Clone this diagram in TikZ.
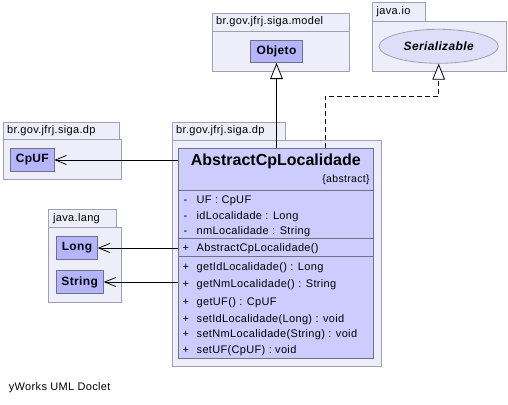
\documentclass[tikz,border=0pt]{standalone}
\usepackage{fontspec}
\setmainfont{Liberation Sans}
\newfontfamily\umlfont[LetterSpace=3]{Liberation Sans}
\usetikzlibrary{arrows.meta,shapes.geometric}
\definecolor{pkgfill}{RGB}{238,238,251}
\definecolor{pkgline}{RGB}{160,160,176}
\definecolor{clsfill}{RGB}{204,204,255}
\definecolor{boxfill}{RGB}{180,180,255}
\definecolor{ifacefill}{RGB}{222,222,248}
\definecolor{clsline}{RGB}{112,112,136}

\begin{document}
\begin{tikzpicture}[x=1pt,y=-1pt]


\tikzset{pkg/.style={draw=pkgline,fill=pkgfill,line width=0.8pt,inner sep=0pt,anchor=north west},}
\tikzset{pkgname/.style={anchor=west,inner sep=0pt,font=\umlfont\fontsize{11}{13}\selectfont},}
\tikzset{box/.style={draw=clsline,fill=boxfill,line width=0.8pt,inner sep=0pt,minimum height=22.6pt,font=\umlfont\bfseries\fontsize{12}{14}\selectfont},}
\tikzset{member/.style={anchor=base west,inner sep=0pt,font=\umlfont\fontsize{11}{13}\selectfont},}

\tikzset{inherit/.style={-{Triangle[open,fill=white,length=16pt,width=12.7pt]}, line width=0.8pt}}
\tikzset{depend/.style={-{Straight Barb[length=11pt,width=9pt]}, line width=0.8pt}}

	\useasboundingbox (0,0) rectangle (508,404);

	\draw
		(211.7,12.7) node[pkg,minimum width=137.6pt,minimum height=18pt] (modeltab) {}
		(211.7,30.7) node[pkg,minimum width=137.6pt,minimum height=40.3pt] (model) {}
		(371.7,2.3) node[pkg,minimum width=53.3pt,minimum height=18.4pt] (iotab) {}
		(371.7,20.7) node[pkg,minimum width=134pt,minimum height=50.3pt] (io) {}
		(2.7,121.7) node[pkg,minimum width=116.3pt,minimum height=17.6pt] (uftab) {}
		(2.7,139.3) node[pkg,minimum width=118pt,minimum height=40pt] (uf) {}
		(48.3,209.3) node[pkg,minimum width=67.7pt,minimum height=18pt] (langtab) {}
		(48.3,227.3) node[pkg,minimum width=72.4pt,minimum height=74.4pt] (lang) {}
		(171.7,121.7) node[pkg,minimum width=113.3pt,minimum height=18.3pt] (dptab) {}
		(171.7,140) node[pkg,minimum width=209.3pt,minimum height=226pt] (dp) {};

	\draw
		(216,21.7) node[pkgname] (modelname) {br.gov.jfrj.siga.model}
		(376.5,11.5) node[pkgname] (ioname) {java.io}
		(7,130.5) node[pkgname] (ufname) {br.gov.jfrj.siga.dp}
		(53,218.3) node[pkgname] (langname) {java.lang}
		(176,130.8) node[pkgname] (dpname) {br.gov.jfrj.siga.dp};

	\draw
		(276.5,51.3) node[box,minimum width=51.6pt] (objeto) {Objeto}
		(32.3,160) node[box,minimum width=43.3pt] (cpuf) {CpUF}
		(77,248) node[box,minimum width=40.6pt] (long) {Long}
		(79.7,282) node[box,minimum width=47.3pt] (string) {String}
		(438.7,46.3) node[ellipse,draw=pkgline,fill=ifacefill,line width=0.8pt,minimum width=119.3pt,minimum height=34pt,font=\umlfont\bfseries\itshape\fontsize{12}{14}\selectfont] (serial) {Serializable};

	% the class
	\node[draw=clsline,fill=clsfill,line width=0.8pt,anchor=north west,minimum width=195pt,minimum height=210.3pt,inner sep=0pt] (cls) at (178.3,148) {};
	\node[font=\bfseries\fontsize{16}{19}\selectfont,inner sep=0pt] (title) at (275.8,161.7) {AbstractCpLocalidade};
	\node[anchor=east,inner sep=0pt,font=\umlfont\fontsize{10.5}{12}\selectfont] (abstr) at (369.8,180) {\{abstract\}};
	\draw[clsline,line width=0.8pt] (cls.west |- 0,190) -- (cls.east |- 0,190);
	\draw[clsline,line width=0.8pt] (cls.west |- 0,238.7) -- (cls.east |- 0,238.7);
	\draw[clsline,line width=0.8pt] (cls.west |- 0,256.7) -- (cls.east |- 0,256.7);

	\draw
		(183.5,203.1) node[member] (v1) {-}  (196.5,203.1) node[member] (m1) {UF : CpUF}
		(183.5,219.1) node[member] (v2) {-}  (196.5,219.1) node[member] (m2) {idLocalidade : Long}
		(183.5,234.5) node[member] (v3) {-}  (196.5,234.5) node[member] (m3) {nmLocalidade : String}
		(182.5,251.1) node[member] (v4) {+}  (196.5,251.1) node[member] (m4) {AbstractCpLocalidade()}
		(182.5,270.5) node[member] (v5) {+}  (196.5,270.5) node[member] (m5) {getIdLocalidade() : Long}
		(182.5,287.1) node[member] (v6) {+}  (196.5,287.1) node[member] (m6) {getNmLocalidade() : String}
		(182.5,305.5) node[member] (v7) {+}  (196.5,305.5) node[member] (m7) {getUF() : CpUF}
		(182.5,322.1) node[member] (v8) {+}  (196.5,322.1) node[member] (m8) {setIdLocalidade(Long) : void}
		(182.5,337.8) node[member] (v9) {+}  (196.5,337.8) node[member] (m9) {setNmLocalidade(String) : void}
		(182.5,353.8) node[member] (v10) {+} (196.5,353.8) node[member] (m10) {setUF(CpUF) : void};

	% connectors
	\draw[inherit] (cls.north -| objeto) -- (objeto.south);
	\coordinate (bend) at (438.7,96);
	\draw[inherit,dash pattern=on 5pt off 3pt] (cls.north -| 325,0) |- (bend) -- (serial.south);
	\draw[depend] (cls.west |- cpuf) -- (cpuf.east);
	\draw[depend] (cls.west |- long) -- (long.east);
	\draw[depend] (cls.west |- string) -- (string.east);

	\node[member] (doclet) at (8.7,390) {yWorks UML Doclet};

\end{tikzpicture}
\end{document}
